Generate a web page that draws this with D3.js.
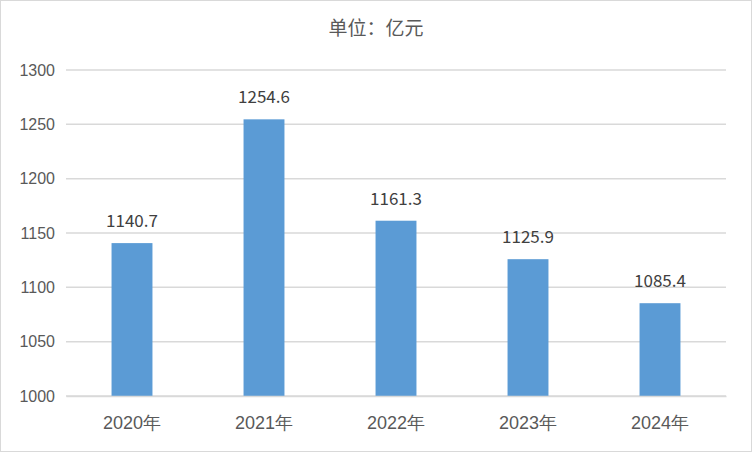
<!DOCTYPE html>
<html><head><meta charset="utf-8">
<script src="https://cdn.jsdelivr.net/npm/d3@7"></script>
<style>body{margin:0;background:#fff;}svg{display:block;font-family:"Noto Sans CJK SC","Noto Sans",sans-serif;}</style>
</head><body>
<svg id="c" width="752" height="452"></svg>
<script>
const categories = ["2020年","2021年","2022年","2023年","2024年"];
const values = [1140.7, 1254.6, 1161.3, 1125.9, 1085.4];
const yTicks = [1000,1050,1100,1150,1200,1250,1300];
const title = "单位：亿元";

const svg = d3.select("#c");
svg.append("rect").attr("x",0.5).attr("y",0.5).attr("width",751).attr("height",451)
  .attr("fill","#fff").attr("stroke","#d9d9d9").attr("stroke-width",1);

const x = d3.scaleBand().domain(categories).range([66,726]).paddingInner(0.69).paddingOuter(0.345);
const y = d3.scaleLinear().domain([1000,1300]).range([396,70]);

const grid = svg.append("g");
grid.selectAll("line").data(yTicks).join("line")
  .attr("x1",66).attr("x2",726).attr("y1",d=>y(d)).attr("y2",d=>y(d))
  .attr("stroke","#d9d9d9").attr("stroke-width",1.5);

const yAxis = svg.append("g").attr("transform","translate(66,0)")
  .call(d3.axisLeft(y).tickValues(yTicks).tickSize(0).tickPadding(11).tickFormat(d3.format("d")));
yAxis.select(".domain").remove();
yAxis.selectAll("text").attr("fill","#595959").style("font-size","16px");

svg.append("g").selectAll("rect").data(values).join("rect")
  .attr("x",(d,i)=>x(categories[i])).attr("width",x.bandwidth())
  .attr("y",d=>y(d)).attr("height",d=>y(1000)-y(d)).attr("fill","#5b9bd5");

svg.append("g").selectAll("text").data(values).join("text")
  .attr("x",(d,i)=>x(categories[i])+x.bandwidth()/2).attr("y",d=>y(d)-16)
  .attr("text-anchor","middle").attr("fill","#404040").style("font-size","17px")
  .text(d=>d.toFixed(1));

const xAxis = svg.append("g").attr("transform","translate(0,396)")
  .call(d3.axisBottom(x).tickSize(0).tickPadding(0));
xAxis.select(".domain").attr("stroke","#d9d9d9").attr("stroke-width",1.5);
xAxis.selectAll("text").attr("fill","#595959").style("font-size","18px")
  .attr("dy",null).attr("y",33);

svg.append("text").attr("x",376).attr("y",35).attr("text-anchor","middle")
  .attr("fill","#595959").style("font-size","19px").text(title);
</script>
</body></html>
